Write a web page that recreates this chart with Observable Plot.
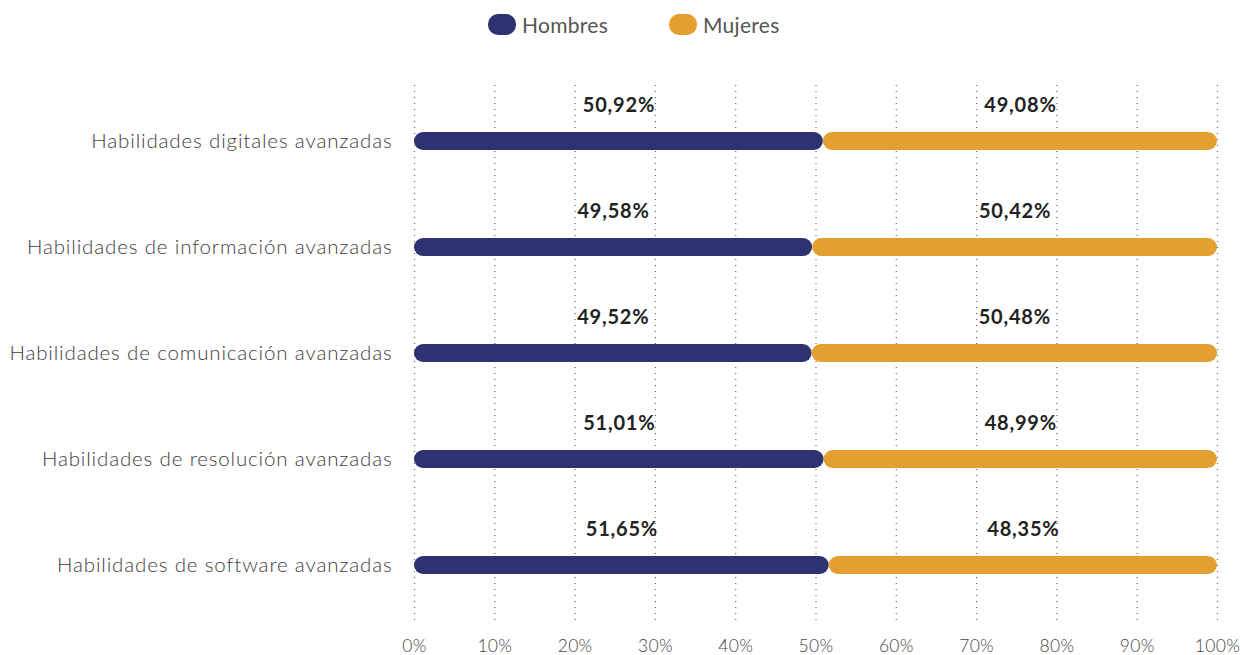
<!DOCTYPE html>
<html><head><meta charset="utf-8">
<script src="https://cdn.jsdelivr.net/npm/d3@7"></script>
<script src="https://cdn.jsdelivr.net/npm/@observablehq/plot@0.6"></script>
<style>
body{margin:0;background:#fff;font-family:Lato,"Open Sans",sans-serif;}
#legend{height:48px;position:relative;}
.item{position:absolute;top:12px;display:flex;align-items:center;font-size:21px;color:#555;letter-spacing:0.3px;}
.sw{width:28px;height:21px;border-radius:10px;margin-right:6px;}
</style></head>
<body>
<div id="legend"></div>
<div id="chart"></div>
<script>
const categories = [
  "Habilidades digitales avanzadas",
  "Habilidades de información avanzadas",
  "Habilidades de comunicación avanzadas",
  "Habilidades de resolución avanzadas",
  "Habilidades de software avanzadas"
];
const hombres = [50.92, 49.58, 49.52, 51.01, 51.65];
const mujeres = [49.08, 50.42, 50.48, 48.99, 48.35];
const seriesNames = ["Hombres", "Mujeres"];
const colors = ["#2e3270", "#e3a030"];
const xTicks = [0,10,20,30,40,50,60,70,80,90,100];

const fmt = v => v.toFixed(2).replace(".", ",") + "%";
const rows = [];
categories.forEach((c, i) => {
  rows.push({cat: c, serie: "Hombres", x1: 0, x2: hombres[i], v: hombres[i]});
  rows.push({cat: c, serie: "Mujeres", x1: hombres[i], x2: 100, v: mujeres[i]});
});

// legend
const lg = document.getElementById("legend");
const lx = [488, 669];
seriesNames.forEach((s, i) => {
  const d = document.createElement("div");
  d.className = "item"; d.style.left = lx[i] + "px";
  d.innerHTML = `<div class="sw" style="background:${colors[i]}"></div><span>${s}</span>`;
  lg.appendChild(d);
});

const chart = Plot.plot({
  width: 1240, height: 607,
  marginLeft: 414, marginRight: 23, marginTop: 40, marginBottom: 37,
  style: {fontFamily: "Lato, 'Open Sans', sans-serif", background: "#fff"},
  x: {domain: [0, 100], ticks: xTicks, tickFormat: d => d + "%", label: null},
  y: {domain: categories, padding: 0, label: null},
  color: {domain: seriesNames, range: colors},
  marks: [
    Plot.gridX(xTicks, {stroke: "#666", strokeOpacity: 1, strokeDasharray: "1,5", strokeWidth: 1.2, insetTop: -3, insetBottom: -2}),
    Plot.axisX({ticks: xTicks, tickSize: 0, tickPadding: 21, fontSize: 17.5, color: "#444", tickFormat: d => d + "%", label: null, className: "xax"}),
    Plot.axisY({tickSize: 0, tickPadding: 22, fontSize: 20.5, color: "#3d3d3d", label: null, className: "yax"}),
    Plot.barX(rows, {y: "cat", x1: "x1", x2: "x2", fill: "serie", rx: 9, insetTop: 44, insetBottom: 44}),
    Plot.text(rows, {y: "cat", x: d => (d.x1 + d.x2) / 2, text: d => fmt(d.v), dy: -36, fontSize: 20, fontWeight: 700, fill: "#222", className: "vals"})
  ]
});
d3.select(chart).selectAll(".yax text").style("letter-spacing", "0.85px").style("font-weight", 300);
d3.select(chart).selectAll(".xax text").style("letter-spacing", "0.3px").style("font-weight", 300);
d3.select(chart).selectAll(".vals text").style("letter-spacing", "0.8px");
document.getElementById("chart").appendChild(chart);
</script>
</body></html>
